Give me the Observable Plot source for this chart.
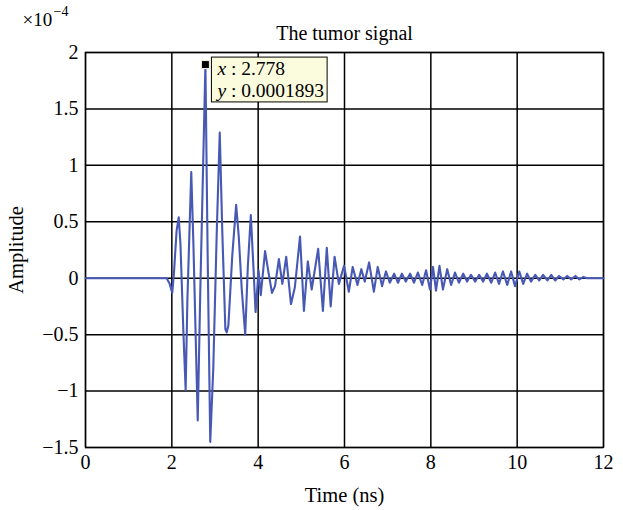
<!DOCTYPE html>
<html>
<head>
<meta charset="utf-8">
<script src="https://cdn.jsdelivr.net/npm/d3@7"></script>
<script src="https://cdn.jsdelivr.net/npm/@observablehq/plot@0.6"></script>
<style>
  html, body { margin: 0; padding: 0; background: #fff; }
  #chart { width: 623px; height: 510px; }
</style>
</head>
<body>
<div id="chart"></div>
<script>
// Time (ns)
const times = [
  0, 1.88, 1.95, 2.01, 2.05, 2.11, 2.16, 2.20, 2.27, 2.32, 2.36, 2.45, 2.50, 2.60, 2.66, 2.778, 2.83, 2.89,
  2.96, 3.04, 3.11, 3.17, 3.24, 3.27, 3.31, 3.40, 3.49, 3.55, 3.62, 3.70, 3.76, 3.83, 3.89, 3.94,
  4.01, 4.06, 4.16, 4.24, 4.32, 4.39, 4.48, 4.56, 4.65, 4.76, 4.85, 4.97, 5.06, 5.15, 5.24, 5.39,
  5.50, 5.59, 5.68, 5.77, 5.87, 5.99, 6.10, 6.19, 6.30, 6.39, 6.47, 6.57, 6.68, 6.77, 6.87, 6.96,
  7.05, 7.15, 7.24, 7.33, 7.42, 7.52, 7.61, 7.70, 7.80, 7.89, 7.98, 8.05, 8.12, 8.20, 8.28, 8.38,
  8.47, 8.56, 8.65, 8.75, 8.84, 8.93, 9.03, 9.12, 9.21, 9.30, 9.40, 9.49, 9.58, 9.67, 9.77, 9.86,
  9.95, 10.05, 10.14, 10.23, 10.32, 10.42, 10.51, 10.60, 10.70, 10.79, 10.88, 10.97, 11.07, 11.16,
  11.25, 11.35, 11.44, 11.53, 11.62, 12
];
// Amplitude (x 1e-4)
const amps = [
  0, 0, -0.05, -0.13, 0.05, 0.42, 0.54, 0.30, -0.50, -0.99, -0.20, 0.94, 0.30, -1.26, -0.10, 1.893, 0.20, -1.45,
  -0.80, 0.40, 1.29, 0.40, -0.45, -0.48, -0.42, 0.20, 0.65, 0.37, -0.10, -0.50, 0.10, 0.56, 0.10, -0.30,
  0.07, -0.15, 0.24, 0.05, -0.13, -0.07, 0.17, -0.05, 0.19, -0.23, -0.08, 0.37, -0.29, 0.15, -0.10, 0.26,
  -0.29, 0.27, -0.25, 0.19, -0.05, 0.11, -0.12, 0.10, -0.06, 0.08, -0.03, 0.14, -0.12, 0.10, -0.07, 0.06,
  -0.04, 0.04, -0.04, 0.04, -0.03, 0.04, -0.04, 0.05, -0.06, 0.07, -0.10, 0.10, -0.11, 0.11, -0.10, 0.08,
  -0.06, 0.05, -0.04, 0.04, -0.03, 0.03, -0.03, 0.03, -0.03, 0.04, -0.04, 0.05, -0.05, 0.06, -0.06, 0.06,
  -0.07, 0.06, -0.05, 0.04, -0.03, 0.03, -0.02, 0.03, -0.02, 0.03, -0.02, 0.02, -0.01, 0.02,
  -0.01, 0.02, -0.01, 0.01, 0, 0
];
const xTicks = [0, 2, 4, 6, 8, 10, 12];
const yTicks = [-1.5, -1, -0.5, 0, 0.5, 1, 1.5, 2];
const peakTime = [2.778];
const peakAmp = [1.893];
const tipLines = ["x : 2.778", "y : 0.0001893"];

const signal = times.map((t, i) => ({t, a: amps[i]}));
const peak = peakTime.map((t, i) => ({t, a: peakAmp[i], label: tipLines.join("\n")}));

const serif = "'Liberation Serif', 'Times New Roman', serif";
const fmt = d3.format("~g");

const chart = Plot.plot({
  width: 623,
  height: 510,
  marginLeft: 85,
  marginRight: 20,
  marginTop: 52,
  marginBottom: 63,
  style: {fontFamily: serif, fontSize: "20px", background: "#fff", color: "#000", overflow: "visible"},
  x: {domain: [0, 12]},
  y: {domain: [-1.5, 2]},
  marks: [
    Plot.gridX(xTicks, {stroke: "#000", strokeOpacity: 1, strokeWidth: 1.5}),
    Plot.gridY(yTicks, {stroke: "#000", strokeOpacity: 1, strokeWidth: 1.5}),
    Plot.frame({stroke: "#000", strokeWidth: 1.3}),
    Plot.axisX({ticks: xTicks, tickSize: 0, tickPadding: 7, tickFormat: fmt, fontSize: 20,
      label: "Time (ns)", labelAnchor: "center", labelOffset: 54, labelArrow: "none"}),
    Plot.axisY({ticks: yTicks, tickSize: 0, tickPadding: 7, tickFormat: fmt, fontSize: 20,
      label: "Amplitude", labelAnchor: "center", labelOffset: 77, labelArrow: "none"}),
    Plot.line(signal, {x: "t", y: "a", stroke: "#4758b5", strokeWidth: 2.1, strokeLinejoin: "round"}),
    Plot.text(["The tumor signal"], {frameAnchor: "top", lineAnchor: "middle", dy: -19, fontSize: 20, fill: "#000"}),
    Plot.text(["×10"], {frameAnchor: "top-left", lineAnchor: "middle", dx: -63, dy: -33, textAnchor: "start", fontSize: 19, fill: "#000"}),
    Plot.text(["−4"], {frameAnchor: "top-left", lineAnchor: "middle", dx: -32, dy: -41, textAnchor: "start", fontSize: 14, fill: "#000"}),
    Plot.text(peak, {x: "t", y: "a", text: "label", className: "datatip", textAnchor: "start", lineAnchor: "top", dx: 12, dy: -5, fontSize: 19.5, lineHeight: 1.12, fill: "#000"}),
    Plot.dot(peak, {x: "t", y: "a", symbol: "square", r: 4.5, fill: "#000", stroke: "#f4f4d8", strokeWidth: 1})
  ]
});
document.getElementById("chart").appendChild(chart);

// Axis label font sizes
chart.querySelectorAll("[aria-label='x-axis label'], [aria-label='y-axis label']").forEach(g => g.setAttribute("font-size", "20.5"));

// Yellow box behind the data tip, sized from the text itself
const tipG = chart.querySelector(".datatip");
if (tipG) {
  const textEl = tipG.querySelector("text") || tipG;
  textEl.querySelectorAll("tspan").forEach(ts => {
    const s = ts.textContent;
    ts.textContent = "";
    const v = document.createElementNS("http://www.w3.org/2000/svg", "tspan");
    v.setAttribute("font-style", "italic");
    v.textContent = s.slice(0, 1);
    ts.appendChild(v);
    ts.appendChild(document.createTextNode(s.slice(1)));
  });
  const bb = textEl.getBBox();
  const rect = document.createElementNS("http://www.w3.org/2000/svg", "rect");
  const tr = textEl.getAttribute("transform");
  if (tr) rect.setAttribute("transform", tr);
  rect.setAttribute("x", bb.x - 4);
  rect.setAttribute("y", bb.y - 1);
  rect.setAttribute("width", bb.width + 7);
  rect.setAttribute("height", bb.height + 2);
  rect.setAttribute("fill", "#fbfbde");
  rect.setAttribute("stroke", "#000");
  rect.setAttribute("stroke-width", "1");
  textEl.parentNode.insertBefore(rect, textEl);
}
</script>
</body>
</html>
